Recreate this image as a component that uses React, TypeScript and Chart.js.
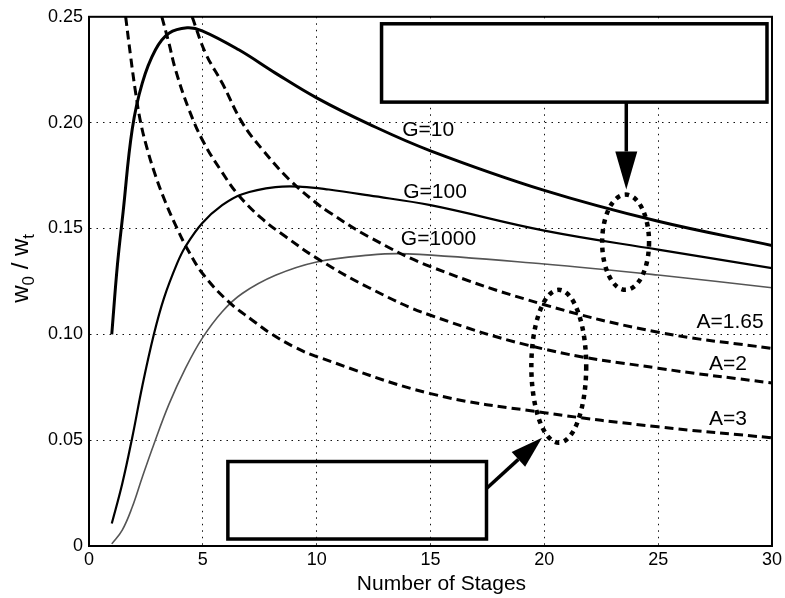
import React, { useEffect, useRef } from 'react';
import { Chart, registerables } from 'chart.js';

Chart.register(...registerables);

// ---- data ----
const g10X = [1, 1.25, 1.5, 1.9, 2.34, 2.92, 3.51, 4.31, 4.97, 6.58, 8.19, 10, 12.3, 15, 20, 25, 30];
const g10Y = [0.1, 0.133, 0.158, 0.197, 0.2187, 0.2344, 0.2422, 0.2448, 0.2434, 0.2344, 0.2234, 0.2117, 0.1993, 0.1867, 0.168, 0.1534, 0.142];

const g100X = [1, 1.46, 1.9, 2.34, 2.85, 3.29, 3.87, 4.24, 4.97, 5.85, 6.73, 8.19, 9.36, 10.53, 12.3, 15, 20, 25, 30];
const g100Y = [0.0106, 0.0294, 0.0513, 0.0755, 0.1, 0.117, 0.1335, 0.1415, 0.1525, 0.161, 0.1662, 0.1695, 0.1697, 0.1684, 0.1656, 0.161, 0.149, 0.14, 0.1313];

const g1000X = [1, 1.46, 1.9, 2.34, 2.85, 3.51, 4.24, 4.97, 5.85, 6.73, 8.19, 10, 12.3, 14, 20, 25, 30];
const g1000Y = [0.001, 0.0075, 0.0184, 0.0325, 0.0481, 0.0669, 0.084, 0.0981, 0.1107, 0.1193, 0.1279, 0.1342, 0.1374, 0.138, 0.1332, 0.128, 0.122];

const a3X = [1.61, 1.83, 2.05, 2.27, 2.56, 2.92, 3.36, 3.87, 4.39, 5.04, 6.14, 7.16, 7.97, 9.06, 10, 15, 20, 25, 30];
const a3Y = [0.25, 0.2312, 0.214, 0.2, 0.1875, 0.175, 0.1624, 0.15, 0.139, 0.128, 0.1153, 0.1068, 0.1005, 0.0938, 0.0895, 0.072, 0.063, 0.0563, 0.0511];

const a2X = [3.2, 3.5, 3.8, 4.39, 5.04, 5.85, 6.58, 7.6, 8.63, 10, 12.3, 15, 20, 25, 30];
const a2Y = [0.25, 0.238, 0.225, 0.2062, 0.1906, 0.1765, 0.1656, 0.1546, 0.1462, 0.136, 0.122, 0.109, 0.093, 0.084, 0.077];

const a165X = [4.53, 5.12, 5.85, 6.73, 7.6, 8.77, 9.94, 10.53, 12.3, 15, 20, 25, 30];
const a165Y = [0.25, 0.2328, 0.2187, 0.2, 0.1875, 0.1734, 0.1624, 0.1578, 0.146, 0.132, 0.114, 0.101, 0.0933];

const xTickValues = [0, 5, 10, 15, 20, 25, 30];
const yTickLabels = ['0', '0.05', '0.10', '0.15', '0.20', '0.25'];

const curveLabels = ['G=10', 'G=100', 'G=1000', 'A=1.65', 'A=2', 'A=3'];
const curveLabelX = [14.9, 15.2, 15.35, 28.16, 28.07, 28.07];
const curveLabelY = [0.1966, 0.167, 0.145, 0.1055, 0.0858, 0.06];

const xTitle = 'Number of Stages';
// y title: "w0 / wt" with subscripts
const yTitleParts = [
  { t: 'w', sub: false },
  { t: '0', sub: true },
  { t: ' / w', sub: false },
  { t: 't', sub: true },
];

// ---- annotation geometry (data units) ----
const boxes = [
  { x0: 12.85, x1: 29.78, y0: 0.2467, y1: 0.2097, fill: true },
  { x0: 6.1, x1: 17.46, y0: 0.0399, y1: 0.0033, fill: false },
];
const arrows = [
  { x0: 23.6, y0: 0.2097, x1: 23.6, y1: 0.1684, head: 38, half: 11 },
  { x0: 17.46, y0: 0.0272, x1: 19.9, y1: 0.0511, head: 32, half: 10 },
];
const ellipses = [
  { x0: 22.54, x1: 24.6, y0: 0.166, y1: 0.121 },
  { x0: 19.43, x1: 21.84, y0: 0.121, y1: 0.0488 },
];

const FONT = "'Liberation Sans', Arial, Helvetica, sans-serif";

function pts(xs: number[], ys: number[]) {
  return xs.map((x, i) => ({ x, y: ys[i] }));
}

const annotate = {
  id: 'annotate',
  afterDatasetsDraw(chart: any) {
    const { ctx, chartArea: a, scales } = chart;
    const sx = scales.x;
    const sy = scales.y;
    ctx.save();
    ctx.setLineDash([]);
    ctx.strokeStyle = '#000';
    ctx.fillStyle = '#000';

    // frame
    ctx.lineWidth = 2;
    ctx.strokeRect(a.left, a.top, a.right - a.left, a.bottom - a.top);

    // boxes
    for (const b of boxes) {
      const l = sx.getPixelForValue(b.x0);
      const r = sx.getPixelForValue(b.x1);
      const t = sy.getPixelForValue(b.y0);
      const bt = sy.getPixelForValue(b.y1);
      if (b.fill) {
        ctx.fillStyle = '#fff';
        ctx.fillRect(l, t, r - l, bt - t);
      }
      ctx.lineWidth = 3.5;
      ctx.strokeStyle = '#000';
      ctx.strokeRect(l, t, r - l, bt - t);
    }

    // arrows
    for (const ar of arrows) {
      const x0 = sx.getPixelForValue(ar.x0);
      const y0 = sy.getPixelForValue(ar.y0);
      const x1 = sx.getPixelForValue(ar.x1);
      const y1 = sy.getPixelForValue(ar.y1);
      const ang = Math.atan2(y1 - y0, x1 - x0);
      const bx = x1 - ar.head * Math.cos(ang);
      const by = y1 - ar.head * Math.sin(ang);
      ctx.lineWidth = 3.5;
      ctx.beginPath();
      ctx.moveTo(x0, y0);
      ctx.lineTo(bx, by);
      ctx.stroke();
      ctx.fillStyle = '#000';
      ctx.beginPath();
      ctx.moveTo(x1, y1);
      ctx.lineTo(bx + ar.half * Math.sin(ang), by - ar.half * Math.cos(ang));
      ctx.lineTo(bx - ar.half * Math.sin(ang), by + ar.half * Math.cos(ang));
      ctx.closePath();
      ctx.fill();
    }

    // dotted ellipses
    for (const e of ellipses) {
      const l = sx.getPixelForValue(e.x0);
      const r = sx.getPixelForValue(e.x1);
      const t = sy.getPixelForValue(e.y0);
      const b = sy.getPixelForValue(e.y1);
      ctx.lineWidth = 4.5;
      ctx.setLineDash([4.5, 5]);
      ctx.beginPath();
      ctx.ellipse((l + r) / 2, (t + b) / 2, (r - l) / 2, (b - t) / 2, 0, 0, Math.PI * 2);
      ctx.stroke();
    }
    ctx.setLineDash([]);

    // curve labels
    ctx.fillStyle = '#000';
    ctx.font = `21px ${FONT}`;
    ctx.textAlign = 'center';
    ctx.textBaseline = 'middle';
    curveLabels.forEach((t, i) => {
      ctx.fillText(t, sx.getPixelForValue(curveLabelX[i]), sy.getPixelForValue(curveLabelY[i]));
    });

    // x axis title
    ctx.font = `21px ${FONT}`;
    ctx.textAlign = 'center';
    ctx.textBaseline = 'alphabetic';
    ctx.fillText(xTitle, (a.left + a.right) / 2 + 11, 590);

    // y axis title (rotated, with subscripts)
    const mainSize = 24;
    const subSize = 17;
    const widths = yTitleParts.map((p) => {
      ctx.font = `${p.sub ? subSize : mainSize}px ${FONT}`;
      return ctx.measureText(p.t).width;
    });
    const total = widths.reduce((s, w) => s + w, 0);
    ctx.save();
    ctx.translate(28, (a.top + a.bottom) / 2 - 13);
    ctx.rotate(-Math.PI / 2);
    ctx.textAlign = 'left';
    let cx = -total / 2;
    yTitleParts.forEach((p, i) => {
      ctx.font = `${p.sub ? subSize : mainSize}px ${FONT}`;
      ctx.fillText(p.t, cx, p.sub ? 6 : 0);
      cx += widths[i];
    });
    ctx.restore();

    ctx.restore();
  },
};

export default function App() {
  const ref = useRef<HTMLCanvasElement | null>(null);

  useEffect(() => {
    if (!ref.current) return;
    const solid = (data: any, w: number, color: string) => ({
      data,
      borderColor: color,
      borderWidth: w,
      pointRadius: 0,
      fill: false,
      tension: 0.4,
    });
    const dashed = (data: any) => ({
      data,
      borderColor: '#000',
      borderWidth: 3,
      borderDash: [9, 5],
      pointRadius: 0,
      fill: false,
      tension: 0.4,
    });
    const chart = new Chart(ref.current, {
      type: 'line',
      data: {
        datasets: [
          { label: 'A=1.65', ...dashed(pts(a165X, a165Y)) },
          { label: 'A=2', ...dashed(pts(a2X, a2Y)) },
          { label: 'A=3', ...dashed(pts(a3X, a3Y)) },
          { label: 'G=1000', ...solid(pts(g1000X, g1000Y), 1.6, '#555') },
          { label: 'G=100', ...solid(pts(g100X, g100Y), 2.2, '#000') },
          { label: 'G=10', ...solid(pts(g10X, g10Y), 3, '#000') },
        ],
      },
      options: {
        animation: false,
        responsive: true,
        maintainAspectRatio: false,
        layout: { padding: { top: 13, right: 12, left: 0, bottom: 0 } },
        plugins: { legend: { display: false }, tooltip: { enabled: false } },
        scales: {
          x: {
            type: 'linear',
            min: 0,
            max: 30,
            afterFit: (s: any) => { s.height = 52; },
            afterBuildTicks: (s: any) => { s.ticks = xTickValues.map((v) => ({ value: v })); },
            ticks: { color: '#000', font: { family: FONT, size: 18 }, padding: 3, maxRotation: 0 },
            grid: { color: '#111', lineWidth: 1, drawTicks: false },
            border: { display: true, color: '#000', width: 2, dash: [1.5, 5] },
            title: { display: false, text: xTitle },
          },
          y: {
            type: 'linear',
            min: 0,
            max: 0.25,
            afterFit: (s: any) => { s.width = 89; },
            afterBuildTicks: (s: any) => { s.ticks = yTickLabels.map((t) => ({ value: parseFloat(t) })); },
            ticks: {
              color: '#000',
              font: { family: FONT, size: 18 },
              padding: 6,
              callback: (v: any) => {
                const i = yTickLabels.findIndex((t) => Math.abs(parseFloat(t) - v) < 1e-9);
                return i >= 0 ? yTickLabels[i] : '';
              },
            },
            grid: { color: '#111', lineWidth: 1, drawTicks: false },
            border: { display: true, color: '#000', width: 2, dash: [1.5, 5] },
            title: { display: false, text: 'w0 / wt' },
          },
        },
      },
      plugins: [annotate],
    } as any);
    return () => chart.destroy();
  }, []);

  return (
    <div style={{ position: 'fixed', left: 0, top: 0, width: 785, height: 598, background: '#fff' }}>
      <canvas ref={ref} />
    </div>
  );
}
